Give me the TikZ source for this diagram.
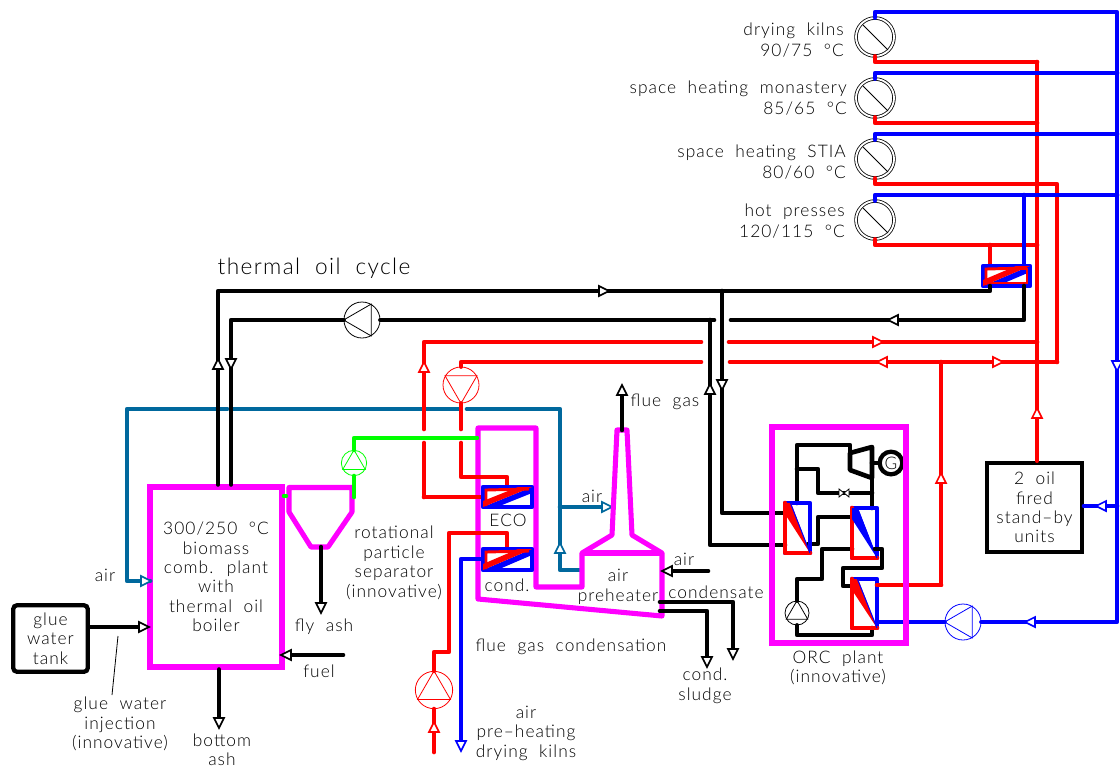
\documentclass[tikz,border=0pt]{standalone}
\usepackage{fontspec}
\setmainfont{Lato}[UprightFont=* Light,WordSpace=2,LetterSpace=6]
\usetikzlibrary{calc}
\definecolor{ungu}{HTML}{FF00FF}
\definecolor{teal}{HTML}{00689D}
\definecolor{hijau}{HTML}{00FF00}
\tikzset{
  pipered/.style={red,line width=3.5pt,line cap=round,line join=round},
  pipeblue/.style={blue,line width=3.5pt,line cap=round,line join=round},
  pipeblack/.style={black,line width=3.5pt,line cap=round,line join=round},
  pipeteal/.style={teal,line width=3.5pt,line cap=round,line join=round},
  pipegreen/.style={hijau,line width=3.5pt,line cap=round,line join=round},
  wall/.style={ungu,line width=3.8pt,line join=round},
  wallbox/.style={draw=ungu,line width=3.8pt,inner sep=0pt,align=center},
  label/.style={font=\fontsize{13}{14.6}\selectfont,inner sep=0pt,align=center},
  pompa/.style={circle,draw,fill=white,line width=0.6pt,inner sep=0pt,minimum size=#1},
  konsumen/.style={circle,draw,double,double distance=1.4pt,line width=0.6pt,inner sep=0pt,minimum size=28.5pt}
}
% tip of a flow arrow, colour last
\newcommand{\panah}[3]{\draw[#3,line width=1.2pt,fill=white,shift={(#1)},rotate=#2] (0,0) -- (-10,-5) -- (-10,5) -- cycle;}
\newcommand{\segitiga}[3]{\pgfmathtruncatemacro{\sudutb}{#2+120}\pgfmathtruncatemacro{\sudutc}{#2+240}
  \draw[#3,line width=0.6pt] (#1.#2) -- (#1.\sudutb) -- (#1.\sudutc) -- cycle;}
% upright exchanger, A top left, B bottom right
\newcommand{\hxv}[3]{\draw[pipeblue] (#1) rectangle (#2);
  \draw[pipered] (#1) -- (#1|-#2) -- (#2);
  \fill[#3] (#1) -- ($(#1)+(6,0)$) -- (#2) -- ($(#1)+(0,11)$) -- cycle;
  \draw[blue,line width=0.8pt] ($(#1)+(5,-1)$) -- (#2);}
% lying exchanger
\newcommand{\hxh}[2]{\draw[pipeblue] (#1) rectangle (#2);
  \fill[blue] (#1|-#2) -- (#2|-#1) -- ($(#2|-#1)+(0,6)$) -- ($(#1|-#2)+(14,0)$) -- cycle;
  \fill[red] (#1|-#2) -- (#2|-#1) -- ($(#2|-#1)+(-14,0)$) -- ($(#1|-#2)+(0,-6)$) -- cycle;
  \draw[red,line width=2.2pt] ($(#1|-#2)+(3,-1)$) -- ($(#1)+(3,3)$) -- ($(#2|-#1)+(-3,2)$);}

\begin{document}
\begin{tikzpicture}[x=0.75pt,y=-0.75pt]
  \useasboundingbox (0,0) rectangle (1120,776);

  % consumers
  \node[konsumen] (K1) at (875,37) {};
  \node[konsumen] (K2) at (875,98) {};
  \node[konsumen] (K3) at (875,159) {};
  \node[konsumen] (K4) at (875,220) {};
  \foreach \k in {K1,K2,K3,K4} \draw[line width=0.6pt] (\k) ++(-12,-12) -- ++(25,25);

  % main equipment
  \node[wallbox,label,minimum width=99pt,minimum height=135pt] (boiler) at (216,577)
    {300/250 °C\\biomass\\comb. plant\\with\\thermal oil\\boiler};
  \node[draw,line width=3.2pt,rounded corners=3pt,label,minimum width=56pt,minimum height=50pt] (tank) at (50.5,638.5)
    {glue\\water\\tank};
  \node[draw,line width=3.2pt,label,minimum width=71pt,minimum height=67pt] (oilbox) at (1034.5,507.5)
    {2 oil\\fired\\stand--by\\units};
  \node[pompa=27pt] (PO) at (362,320) {};
  \node[pompa=27pt,draw=red] (PR) at (461,385) {};
  \node[pompa=28pt,draw=red] (PA) at (434,690) {};
  \node[pompa=19pt,draw=hijau] (PG) at (354,463) {};
  \node[pompa=27pt,draw=blue] (PB) at (963,622) {};
  \node[pompa=18pt] (PC) at (797,613) {};

  \coordinate (BM) at (1117,12);
  \coordinate (B2) at (1117,73);
  \coordinate (B3) at (1117,134);
  \coordinate (B4) at (1117,195);
  \coordinate (BE) at (1117,622);
  \coordinate (R1) at (1037,62);
  \coordinate (R2) at (1037,123);
  \coordinate (R3) at (1057,184);
  \coordinate (R4) at (1037,245);
  \coordinate (R5) at (1057,362);
  \coordinate (R6) at (1037,342);
  \coordinate (HPA) at (983,266);
  \coordinate (HPB) at (1030,286);
  \coordinate (ECA) at (483,487);
  \coordinate (ECB) at (532,507);
  \coordinate (CDA) at (483,549);
  \coordinate (CDB) at (532,570);
  \coordinate (H1A) at (785,503);
  \coordinate (H1B) at (810,553);
  \coordinate (H2A) at (852,508);
  \coordinate (H2B) at (877,558);
  \coordinate (H3A) at (852,579);
  \coordinate (H3B) at (877,628);
  \coordinate (OU) at (218,291);
  \coordinate (OT) at (990,291);
  \coordinate (OL) at (231,320);
  \coordinate (OR) at (1024,320);

  % air
  \draw[pipeteal] (150,581) -- (127,581) -- (127,409) -- (227,409);
  \draw[pipeteal] (234,409) -- (459,409);
  \draw[pipeteal] (467,409) -- (560,409) -- (560,570) -- (580,570);
  \draw[pipeteal] (560,507) -- (606,507);
  \panah{151,581}{0}{teal}
  \panah{560,543}{90}{teal}
  \panah{612,507}{0}{teal}

  % flue gas path
  \draw[wall] (478,428) -- (536,428) -- (536,587) -- (582,587) -- (582,553) -- (612,535) -- (617,430)
    -- (627,430) -- (632,535) -- (662,553) -- (662,616) -- (478,599) -- cycle;
  \draw[wall] (582,553) -- (662,553);
  \draw[wall] (289,487.5) -- (352,487.5) -- (352,512) -- (328,547) -- (311,547) -- (289,512) -- cycle;

  % green line
  \draw[pipegreen] (PG.south) -- (354,497);
  \draw[pipegreen] (PG.north) -- (354,438) -- (477,438);
  \draw[pipegreen] (284,496) -- (286,496);

  % hot water
  \draw[pipered] (K1.south) |- (R1);
  \draw[pipered] (K2.south) |- (R2);
  \draw[pipered] (K3.south) |- (R3) -- (R5);
  \draw[pipered] (K4.south) |- (R4);
  \draw[pipered] (R1) -- (R1|-oilbox.north);
  \draw[pipered] (990,245) -- (990,264);
  \panah{1037,408}{90}{red}
  \draw[pipeblue] (K1.north) |- (BM) -- (BE) -- (PB.east);
  \draw[pipeblue] (K2.north) |- (B2);
  \draw[pipeblue] (K3.north) |- (B3);
  \draw[pipeblue] (K4.north) |- (B4);
  \draw[pipeblue] (1024,195) -- (1024,266);
  \draw[pipeblue] (1117,506) -- (oilbox.east|-1117,506);
  \panah{1117,371}{270}{blue}
  \panah{1096,506}{180}{blue}
  \panah{1025,622}{180}{blue}
  \hxh{HPA}{HPB}
  \draw[red,line width=0.8pt] ($(HPA)+(3,3)$) rectangle ($(HPB)+(-3,-3)$);

  % thermal oil
  \draw[pipeblack] (OU|-boiler.north) -- (OU) -- (OT) -- (OT|-HPB);
  \draw[pipeblack] (OL|-boiler.north) -- (OL) -- (PO.west);
  \draw[pipeblack] (PO.east) -- (714,320);
  \draw[pipeblack] (731,320) -- (OR) -- (OR|-HPB);
  \draw[pipeblack] (722,291) -- (722,513) -- (785,513);
  \draw[pipeblack] (710,320) -- (710,545) -- (785,545);
  \panah{609,291}{0}{black}
  \panah{888,320}{180}{black}
  \panah{218,359}{90}{black}
  \panah{231,369}{270}{black}
  \panah{710,384}{90}{black}
  \panah{722,390}{270}{black}
  \segitiga{PO}{180}{black}

  % hot oil
  \draw[pipered] (424,497) -- (483,497);
  \draw[pipered] (424,497) -- (424,443);
  \draw[pipered] (424,429) -- (424,342) -- (701,342);
  \draw[pipered] (729,342) -- (R6);
  \draw[pipered] (PR.north) -- (461,362) -- (701,362);
  \draw[pipered] (730,362) -- (R5);
  \draw[pipered] (PR.south) -- (461,429);
  \draw[pipered] (461,443) -- (461,477) -- (507,477) -- (507,487);
  \draw[pipered] (941,362) -- (941,585) -- (878,585);
  \panah{424,362}{90}{red}
  \panah{883,342}{0}{red}
  \panah{877,362}{180}{red}
  \panah{1003,362}{0}{red}
  \panah{941,473}{90}{red}
  \segitiga{PR}{270}{red}
  \hxh{ECA}{ECB}

  % condensation and air
  \draw[pipered] (507,549) -- (507,533) -- (449,533) -- (449,652) -- (434,652) -- (PA.north);
  \draw[pipered] (PA.south) -- (434,752);
  \panah{434,722}{90}{red}
  \segitiga{PA}{90}{red}
  \draw[pipeblue] (483,559) -- (461,559) -- (461,742);
  \panah{461,751}{270}{blue}
  \hxh{CDA}{CDB}

  \segitiga{PG}{90}{hijau}
  \segitiga{PB}{180}{blue}

  % black lines on the plant
  \draw[pipeblack] (622,430) -- (622,393);
  \panah{622,385}{90}{black}
  \draw[pipeblack] (708,571) -- (670,571);
  \panah{662,571}{180}{black}
  \draw[pipeblack] (660,602) -- (733,602) -- (733,650);
  \panah{733,659}{270}{black}
  \draw[pipeblack] (660,611) -- (707,611) -- (707,660);
  \panah{707,667}{270}{black}
  \draw[pipeblack] (boiler.south-|219,0) -- (219,720);
  \panah{219,728}{270}{black}
  \draw[pipeblack] (321,547) -- (321,605);
  \panah{321,613}{270}{black}
  \draw[pipeblack] (343,655) -- (290,655);
  \panah{281,655}{180}{black}
  \draw[pipeblack] (tank.east|-0,627) -- (141,627);
  \panah{149,627}{0}{black}
  \draw[line width=0.6pt] (118,636) -- (112,695);

  % ORC plant
  \node[circle,draw,line width=3.2pt,inner sep=0pt,minimum size=17pt,label,fill=white] (GEN) at (891,463) {G};
  \draw[pipeblack] (797,503) -- (797,445) -- (850,445) -- (850,453);
  \draw[pipeblack] (850,453) -- (872,447) -- (872,478) -- (850,470) -- cycle;
  \draw[pipeblack] (872,463) -- (GEN.west);
  \draw[pipeblack] (797,469) -- (818,469) -- (818,493) -- (872,493);
  \draw[pipeblack] (872,478) -- (872,508);
  \draw[line width=0.6pt,fill=white] (839,489) -- (849,497) -- (849,489) -- (839,497) -- cycle;
  \draw[pipeblack] (808,544) -- (818,544) -- (818,517) -- (852,517);
  \draw[pipeblack] (852,549) -- (822,549) -- (822,579) -- (797,579) -- (PC.north);
  \draw[pipeblack] (PC.south) -- (797,635) -- (872,635) -- (872,628);
  \draw[pipeblack] (875,549) -- (882,549) -- (882,568) -- (843,568) -- (843,586) -- (852,586);
  \segitiga{PC}{90}{black}
  \hxv{H1A}{H1B}{red}
  \hxv{H2A}{H2B}{blue}
  \hxv{H3A}{H3B}{red}
  \draw[pipered] (877,585) -- (941,585);
  \draw[pipeblue] (877,622) -- (PB.west);
  \draw[pipeblack] (875,549) -- (880,549);
  \node[wallbox,minimum width=100.5pt,minimum height=162pt] (orc) at (839,535) {};

  % labels
  \node[label,anchor=east,align=right] (LK1) at (844,40) {drying kilns\\[1pt]90/75 °C};
  \node[label,anchor=east,align=right] (LK2) at (847,98) {space heating monastery\\[1pt]85/65 °C};
  \node[label,anchor=east,align=right] (LK3) at (846,162) {space heating STIA\\[1pt]80/60 °C};
  \node[label,anchor=east,align=right] (LK4) at (845,221) {hot presses\\[1pt]120/115 °C};
  \node[label,font=\fontsize{17}{18}\selectfont] (LC) at (314,268) {thermal oil cycle};
  \node[label] (LA1) at (105,575) {air};
  \node[label] (LG) at (120,724) {glue water\\injection\\(innovative)};
  \node[label] (LB) at (222,750) {bottom\\ash};
  \node[label] (LF) at (324,627) {fly ash};
  \node[label] (LU) at (319,671) {fuel};
  \node[label] (LS) at (394,563) {rotational\\particle\\separator\\(innovative)};
  \node[label] (LE) at (508,520) {ECO};
  \node[label] (LD) at (507,585) {cond.};
  \node[label] (LA2) at (592,496) {air};
  \node[label] (LH) at (618,587) {air\\preheater};
  \node[label] (LA3) at (684,559) {air};
  \node[label] (LW) at (665,402) {flue gas};
  \node[label] (LN) at (716,592) {condensate};
  \node[label] (LQ) at (571,647) {flue gas condensation};
  \node[label] (LJ) at (705,686) {cond.\\sludge};
  \node[label] (LP) at (526,733) {air\\pre--heating\\drying kilns};
  \node[label] (LO) at (838,668) {ORC plant\\(innovative)};
\end{tikzpicture}
\end{document}
